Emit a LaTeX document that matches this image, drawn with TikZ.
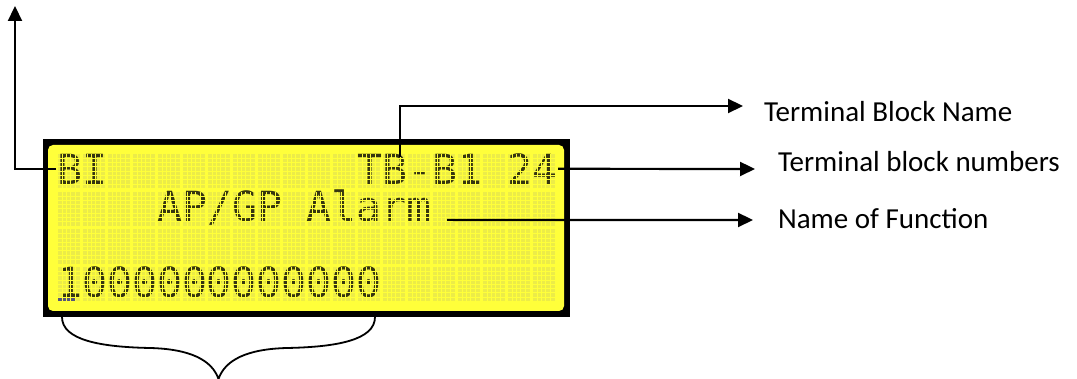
\documentclass[tikz,border=0pt]{standalone}
\usepackage{fontspec}
\setmainfont{Carlito}
\setmonofont{DejaVu Sans Mono}
\usetikzlibrary{arrows.meta}
\definecolor{lcdyellow}{HTML}{FFFF3A}
\definecolor{lcdcell}{HTML}{ECEC48}
\definecolor{lcdink}{HTML}{35350F}
\definecolor{lcdcursor}{HTML}{55557A}
\begin{document}
\begin{tikzpicture}[x=1pt, y=-1pt, line width=2.2pt,
        >={Triangle[length=15pt, width=14pt]},
        lcd/.style={anchor=base west, inner sep=0pt, text=lcdink, font=\fontsize{41.5}{50}\selectfont\ttfamily},
        lbl/.style={anchor=base west, inner sep=0pt, font=\fontsize{29}{35}\selectfont},
        dotgap/.style={draw=lcdyellow, line width=0.9pt}]
    \useasboundingbox (0, 0) rectangle (1077, 379);
    \fill[black] (43, 139) rectangle (570, 317);
    \fill[lcdyellow, rounded corners=5pt] (48, 145) rectangle (564, 311);
    \foreach \r in {0,...,3}
        \foreach \c in {0,...,19}
            \fill[lcdcell] ({58+25*\c}, {154+37.7*\r}) rectangle +(21.5, 34.4);
    \node[lcd] (bi) at (56, 184.2) {BI};
    \node[lcd] (tb) at (356, 184.2) {TB-B1};
    \node[lcd] (num) at (506, 184.2) {24};
    \node[lcd] (func) at (156, 221.9) {AP/GP Alarm};
    \node[lcd] (bits) at (56, 297.3) {1000000000000};
    \fill[lcdcursor] (58, 297.6) rectangle (75.2, 301.2);
    \foreach \r in {0,...,3}
        \foreach \c in {0,...,19} {
            \foreach \k in {1,...,4}
                \draw[dotgap] ({58+25*\c+4.3*\k}, {154+37.7*\r}) -- +(0, 34.4);
            \foreach \k in {1,...,7}
                \draw[dotgap] ({58+25*\c}, {154+37.7*\r+4.3*\k}) -- +(21.5, 0);
        }
    \coordinate (uptip) at (15, 6);
    \coordinate (nametip) at (743, 106);
    \coordinate (numtip) at (755, 169);
    \coordinate (functip) at (753, 220);
    \node[lbl] (tbname) at (763, 122) {Terminal Block Name};
    \node[lbl] (tbnum) at (777, 172) {Terminal block numbers};
    \node[lbl] (fname) at (777, 229) {Name of Function};
    \draw[->] (bi.west) -| (uptip);
    \draw[->] ([shift={(44pt, -4pt)}]tb.north west) |- (nametip);
    \draw[->] (num.east) -- (numtip);
    \draw[->] ([shift={(14pt, 2pt)}]func.base east) -- (functip);
    \draw[line width=1.8pt] (62, 317) .. controls (62, 340) and (100, 347) .. (150, 348)
        .. controls (190, 349) and (212, 360) .. (218.5, 379)
        .. controls (225, 360) and (247, 349) .. (287, 348)
        .. controls (337, 347) and (375, 340) .. (375, 317);
\end{tikzpicture}
\end{document}
